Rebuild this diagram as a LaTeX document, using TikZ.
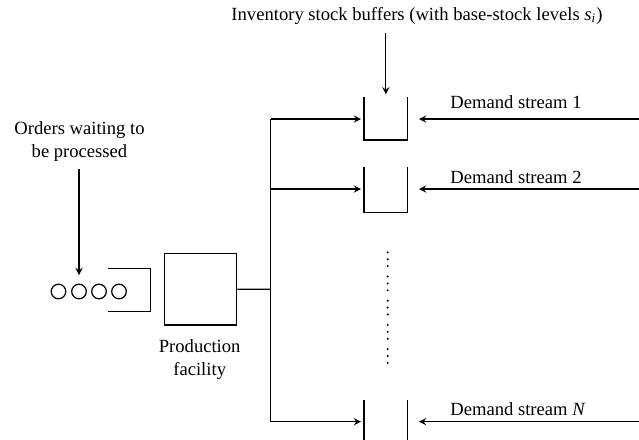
\documentclass[tikz,border=0pt]{standalone}
\usepackage{fontspec}
\setmainfont{Liberation Serif}
\usetikzlibrary{arrows}
\begin{document}
\begin{tikzpicture}[x=0.5pt,y=-0.5pt,>=stealth,line width=0.6pt,line join=miter,
		font=\fontsize{9.3}{11.5}\selectfont]
			\useasboundingbox (0,0) rectangle (639,440);
			\def\busx{270.7} \def\dmx{639}
			% Orders in the queue
			\foreach \cx/\n in {58.5/1,79/2,99/3,119/4}
				\node[circle,draw,minimum size=7.3pt,inner sep=0pt] (o\n) at (\cx,291.5) {};
			\node[align=center] (orders) at (79.5,141.5) {Orders waiting to\\be processed};
			\draw[->] (orders.south -| o2.north) -- ([yshift=4.3pt]o2.north);
			\draw (108.3,268.3) -| (150.3,311.3) -- (108.3,311.3);
			% Production facility
			\node[draw,minimum width=36pt,minimum height=35.8pt,inner sep=0pt] (prod) at (200.7,289.2) {};
			\node[align=center] (prodlbl) at (199.7,360) {Production\\facility};
			% Buffers
			\node[minimum width=21.2pt,minimum height=21pt,inner sep=0pt] (b1) at (385.8,118.3) {};
			\node[minimum width=21.2pt,minimum height=22.2pt,inner sep=0pt] (b2) at (385.8,189.5) {};
			\node[minimum width=21.2pt,minimum height=20pt,inner sep=0pt] (bN) at (385.8,421) {};
			\draw (b1.north west) |- (b1.south east) -- (b1.north east);
			\draw (b2.north west) |- (b2.south east) -- (b2.north east);
			\draw (bN.north west) -- (bN.south west) (bN.north east) -- (bN.south east);
			\node (inv) at (417,16) {Inventory stock buffers (with base-stock levels \textit{s}\textsubscript{\textit{i}})};
			\draw[->] ([yshift=-0.5pt]inv.south -| b1.north) -- ([yshift=1.2pt]b1.north);
			% Distribution to the buffers
			\coordinate (bus) at (\busx,289.3);
			\coordinate (bustop) at (\busx,119);
			\coordinate (busbot) at (\busx,421.7);
			\draw (prod.east) -- (bus);
			\draw (bustop) -- (busbot);
			\draw[->,shorten >=1.5pt] (bustop) -- (bustop -| b1.west);
			\draw[->,shorten >=1.5pt] (\busx,189) -- (b2.west |- 0,189);
			\draw[->,shorten >=1.5pt] (busbot) -- (busbot -| bN.west);
			% Demand streams
			\coordinate (d1) at (\dmx,119);
			\coordinate (d2) at (\dmx,189);
			\coordinate (dN) at (\dmx,421.7);
			\draw[->,shorten >=5.7pt] (d1) -- (d1 -| b1.east);
			\draw[->,shorten >=5.7pt] (d2) -- (d2 -| b2.east);
			\draw[->,shorten >=5.7pt] (dN) -- (dN -| bN.east);
			\node (dl1) at (516,101.7) {Demand stream 1};
			\node (dl2) at (516,177.3) {Demand stream 2};
			\node (dlN) at (518,409) {Demand stream \textit{N}};
			% vertical dots
			\foreach \g in {0,...,4}
				\foreach \d in {0,1,2}
					\fill (387.7,{252.3+24.2*\g+6.9*\d}) circle (0.55pt);
		\end{tikzpicture}
\end{document}
